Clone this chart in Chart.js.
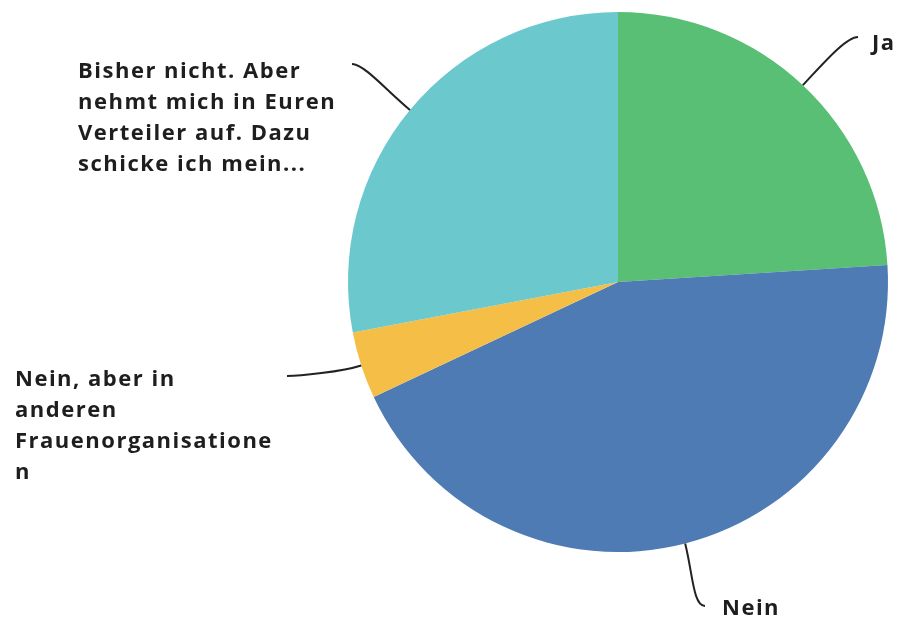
<!DOCTYPE html>
<html>
<head>
<meta charset="utf-8">
<script src="https://cdn.jsdelivr.net/npm/chart.js@4.4.0/dist/chart.umd.min.js"></script>
<style>
  html, body { margin: 0; padding: 0; background: #fff; }
  #wrap { width: 908px; height: 622px; }
</style>
</head>
<body>
<div id="wrap"><canvas id="pie" width="908" height="622"></canvas></div>
<script>
// Antworten (Anzahl)
var categories = [
  'Ja',
  'Nein',
  'Nein, aber in anderen Frauenorganisationen',
  'Bisher nicht. Aber nehmt mich in Euren Verteiler auf. Dazu schicke ich mein...'
];
var values = [6, 11, 1, 7];
var colors = ['#58bf74', '#4e7bb4', '#f5be47', '#6bc8cc'];

// Beschriftungen, wie sie umbrochen im Bild stehen
var labelLines = [
  ['Ja'],
  ['Nein'],
  ['Nein, aber in', 'anderen', 'Frauenorganisatione', 'n'],
  ['Bisher nicht. Aber', 'nehmt mich in Euren', 'Verteiler auf. Dazu', 'schicke ich mein...']
];

// Lage der Texte und Enden der Linien
var labelLayout = [
  { x: 872, y: 50,  endX: 858, endY: 37,  dir: -1, out: 30 },
  { x: 722, y: 615, endX: 705, endY: 606, dir: -1, out: 30 },
  { x: 15,  y: 386, endX: 287, endY: 376, dir: 1,  out: 20 },
  { x: 78,  y: 78,  endX: 352, endY: 64,  dir: 1,  out: 30 }
];

var outsideLabels = {
  id: 'outsideLabels',
  afterDatasetsDraw: function(chart) {
    var ctx = chart.ctx;
    var arcs = chart.getDatasetMeta(0).data;
    ctx.save();
    arcs.forEach(function(arc, i) {
      var p = arc.getProps(['x', 'y', 'startAngle', 'endAngle', 'outerRadius']);
      var mid = (p.startAngle + p.endAngle) / 2;
      var cx = Math.cos(mid), cy = Math.sin(mid);
      var sx = p.x + cx * p.outerRadius;
      var sy = p.y + cy * p.outerRadius;
      var l = labelLayout[i];
      ctx.beginPath();
      ctx.moveTo(sx, sy);
      ctx.bezierCurveTo(
        sx + cx * l.out, sy + cy * l.out,
        l.endX + l.dir * 12, l.endY,
        l.endX, l.endY
      );
      ctx.strokeStyle = '#222';
      ctx.lineWidth = 2;
      ctx.stroke();

      ctx.fillStyle = '#1e1e1e';
      ctx.font = 'bold 22px "Open Sans", sans-serif';
      ctx.letterSpacing = '1.5px';
      ctx.textAlign = 'left';
      ctx.textBaseline = 'alphabetic';
      labelLines[i].forEach(function(line, j) {
        ctx.fillText(line, l.x, l.y + j * 31);
      });
    });
    ctx.restore();
  }
};

new Chart(document.getElementById('pie'), {
  type: 'pie',
  data: {
    labels: categories,
    datasets: [{
      data: values,
      backgroundColor: colors,
      borderWidth: 0
    }]
  },
  options: {
    responsive: false,
    animation: false,
    layout: {
      padding: { left: 348, right: 20, top: 12, bottom: 70 }
    },
    plugins: {
      legend: { display: false },
      tooltip: { enabled: false }
    }
  },
  plugins: [outsideLabels]
});
</script>
</body>
</html>
